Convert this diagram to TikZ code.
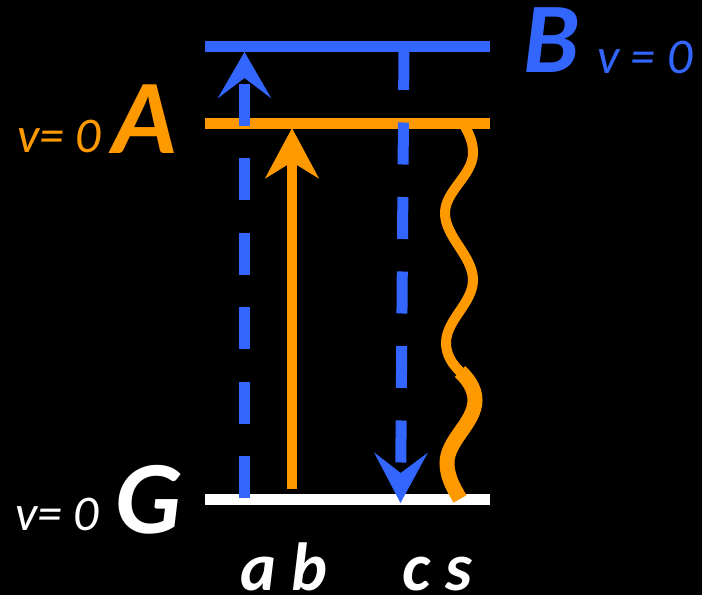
\documentclass[tikz,border=0pt]{standalone}
\usepackage{fontspec}
\setmainfont{Carlito}
\usetikzlibrary{arrows.meta}
\definecolor{myblue}{HTML}{3366FF}
\definecolor{myorange}{HTML}{FF9900}
\tikzset{
  level/.style={line width=11pt},
  lbl/.style={anchor=base west, inner sep=0pt, font=\itshape},
  big/.style={lbl, font=\bfseries\itshape\fontsize{100}{100}\selectfont},
  vlab/.style={lbl, font=\itshape\fontsize{50}{50}\selectfont},
  trans/.style={lbl, text=white, font=\bfseries\itshape\fontsize{68}{68}\selectfont},
  bluedash/.style={myblue, line width=11pt, dash pattern=on 42pt off 32.5pt},
}
\begin{document}
\begin{tikzpicture}[x=1pt,y=-1pt]
\fill[black] (0,0) rectangle (702,595);
\useasboundingbox (0,0) rectangle (702,595);
% levels
\coordinate (GL) at (205,499); \coordinate (GR) at (490,499);
\coordinate (AL) at (205,123.5); \coordinate (AR) at (490,123.5);
\coordinate (BL) at (205,46.5); \coordinate (BR) at (490,46.5);
\draw[level, white] (GL) -- (GR);
\draw[level, myorange] (AL) -- (AR);
\draw[level, myblue] (BL) -- (BR);
% arrow a
\coordinate (a0) at (244.5,498); \coordinate (a1) at (244.5,52);
\draw[bluedash, -{Stealth[length=46pt,width=53pt,inset=20pt]}] (a0) -- (a1);
% arrow b
\coordinate (b0) at (292,489); \coordinate (b1) at (292,128);
\draw[myorange, line width=10pt, -{Stealth[length=50pt,width=53pt,inset=16pt]}] (b0) -- (b1);
% arrow c
\coordinate (c0) at (404,48); \coordinate (c1) at (400.5,503);
\draw[bluedash, -{Stealth[length=50pt,width=53pt,inset=20pt]}] (c0) -- (c1);
% wavy s
\coordinate (s0) at (463,123); \coordinate (sm) at (460,371.5); \coordinate (s1) at (460,499);
\draw[myorange, line width=10pt] (s0) .. controls (470,135) and (473,143) .. (473,153)
  .. controls (473,175) and (445,191) .. (445,213)
  .. controls (445,237) and (473,256) .. (473,280)
  .. controls (473,303) and (446,320) .. (446,343)
  .. controls (446,355) and (453,365) .. (sm);
\draw[myorange, line width=15pt] (sm) .. controls (467,378) and (475,388) .. (475,400)
  .. controls (475,423) and (447,440) .. (447,463)
  .. controls (447,478) and (455,490) .. (s1);
% labels
\node[big, text=myblue] (Blab) at (523,72) {B};
\node[vlab, text=myblue] (Bv) at (597,73) {v = 0};
\node[big, text=myorange, font=\bfseries\itshape\fontsize{106}{106}\selectfont] (Alab) at (112,153) {A};
\node[vlab, text=myorange] (Av) at (17,152) {v= 0};
\node[big, text=white, font=\bfseries\itshape\fontsize{104}{104}\selectfont] (Glab) at (115,533) {G};
\node[vlab, text=white] (Gv) at (15,530) {v= 0};
\node[trans] (ab) at (240,590) {a b};
\node[trans] (cs) at (402,590) {c s};
\end{tikzpicture}
\end{document}
